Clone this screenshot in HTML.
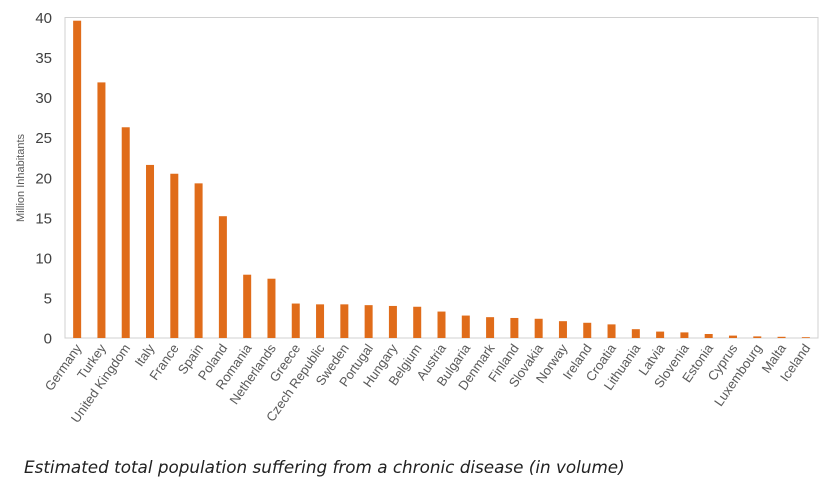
<!DOCTYPE html>
<html><head><meta charset="utf-8"><style>
body{margin:0;background:#fff;}
svg text{font-family:"Liberation Sans",sans-serif;}
</style></head><body>
<svg width="840" height="491" xmlns="http://www.w3.org/2000/svg">
<rect x="65" y="17.5" width="753" height="320.5" fill="none" stroke="#d0d0d0" stroke-width="1"/>
<g id="yaxis"></g>
<g id="bars"></g>
<g id="xlabels"></g>
<text transform="translate(24,178) rotate(-90)" text-anchor="middle" font-size="11" fill="#595959">Million Inhabitants</text>
<text x="24" y="473" font-size="16.8" font-style="italic" fill="#222" style="font-family:'DejaVu Sans',sans-serif">Estimated total population suffering from a chronic disease (in volume)</text>
</svg>
<script>
const categories=["Germany","Turkey","United Kingdom","Italy","France","Spain","Poland","Romania","Netherlands","Greece","Czech Republic","Sweden","Portugal","Hungary","Belgium","Austria","Bulgaria","Denmark","Finland","Slovakia","Norway","Ireland","Croatia","Lithuania","Latvia","Slovenia","Estonia","Cyprus","Luxembourg","Malta","Iceland"];
const values=[39.6,31.9,26.3,21.6,20.5,19.3,15.2,7.9,7.4,4.3,4.2,4.2,4.1,4.0,3.9,3.3,2.8,2.6,2.5,2.4,2.1,1.9,1.7,1.1,0.8,0.7,0.5,0.3,0.2,0.15,0.1];
const yTicks=[0,5,10,15,20,25,30,35,40];
const NS="http://www.w3.org/2000/svg";
const x0=65,x1=818,yb=338,yt=17.5,ymax=40;
const band=(x1-x0)/categories.length;
function xs(i){return x0+band*(i+0.5);}
function ys(v){return yb-(v/ymax)*(yb-yt);}
const ya=document.getElementById('yaxis');
yTicks.forEach(t=>{
 const el=document.createElementNS(NS,'text');
 el.setAttribute('x',52);el.setAttribute('y',ys(t)+5.5);
 el.setAttribute('text-anchor','end');el.setAttribute('font-size','15');el.setAttribute('fill','#404040');
 el.textContent=t;
 
 
 ya.appendChild(el);
});
const bg=document.getElementById('bars'),xl=document.getElementById('xlabels');
categories.forEach((c,i)=>{
 const r=document.createElementNS(NS,'rect');
 const w=8;
 r.setAttribute('x',xs(i)-w/2);r.setAttribute('y',ys(values[i]));
 r.setAttribute('width',w);r.setAttribute('height',yb-ys(values[i]));
 r.setAttribute('fill','#e06c1a');
 
 
 bg.appendChild(r);
 const t=document.createElementNS(NS,'text');
 const lx=xs(i)+5,ly=348;
 t.setAttribute('transform','translate('+lx+','+ly+') rotate(-55)');
 t.setAttribute('text-anchor','end');t.setAttribute('font-size','13');t.setAttribute('fill','#595959');
 t.textContent=c;
 
 
 xl.appendChild(t);
});
</script>
</body></html>
